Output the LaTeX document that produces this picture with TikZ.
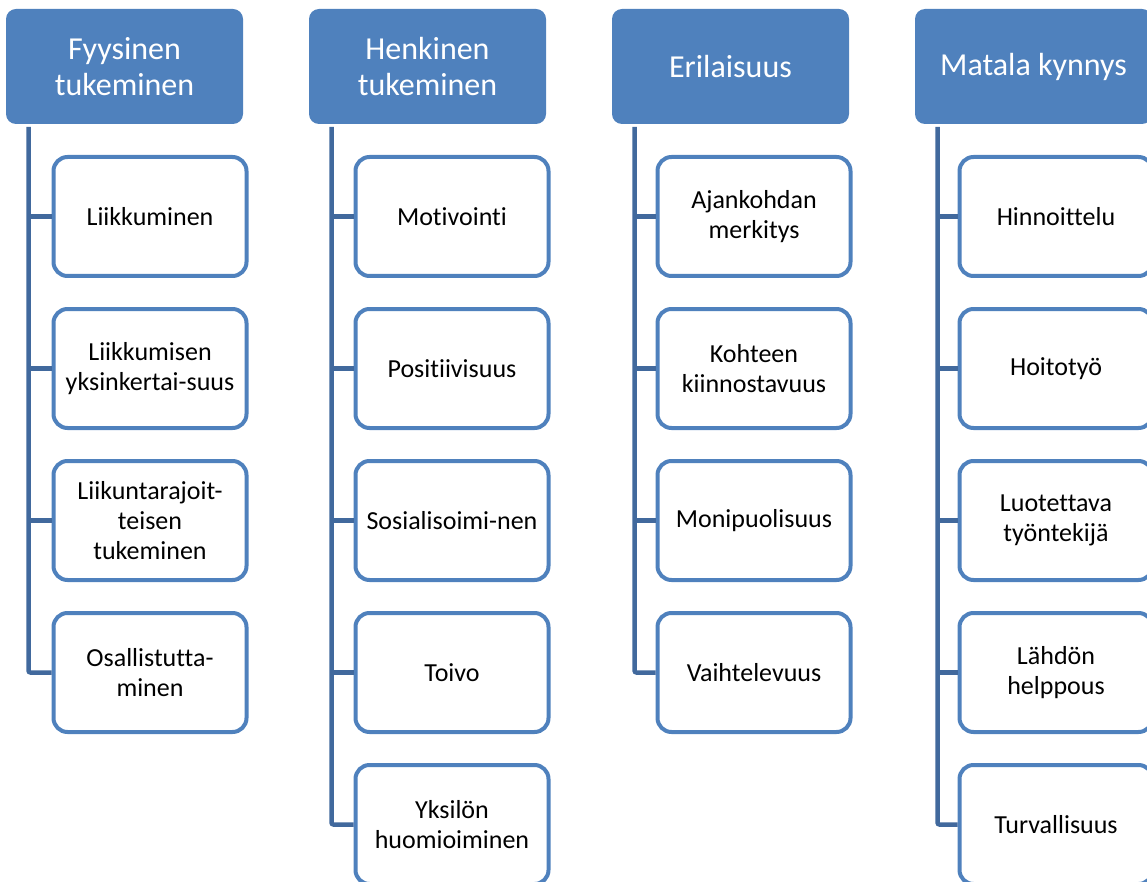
\documentclass[tikz,border=0pt]{standalone}
\usepackage{fontspec}
\setmainfont[Ligatures={NoCommon,NoRequired,NoContextual}]{Carlito}
\definecolor{hdr}{HTML}{4F81BD}
\definecolor{brd}{HTML}{4F81BD}
\definecolor{conn}{HTML}{41699D}
\tikzset{
  header/.style={rectangle, rounded corners=10pt, fill=hdr, draw=none, text=white,
    minimum width=237pt, minimum height=115pt, align=center, inner sep=0pt,
    font=\fontsize{32pt}{36pt}\selectfont},
  child/.style={rectangle, rounded corners=14pt, fill=white, draw=brd, line width=4pt,
    minimum width=193pt, minimum height=119pt, align=center, inner sep=0pt, text width=187pt,
    font=\fontsize{26pt}{30pt}\selectfont},
  connline/.style={draw=conn, line width=4.5pt, rounded corners=2pt},
  branch/.style={draw=conn, line width=4.5pt}
}
\begin{document}
\begin{tikzpicture}[x=1pt,y=1pt]
\useasboundingbox (0,0) rectangle (1147,-882);
\clip (0,0) rectangle (1147,-882);
% headers
\node[header] (h1) at (124.5,-66.5) {Fyysinen\\tukeminen};
\node[header] (h2) at (427.5,-66.5) {Henkinen\\tukeminen};
\node[header] (h3) at (730.5,-66.5) {Erilaisuus};
\node[header] (h4) at (1033.5,-66.5) {Matala kynnys};
% line tops
\coordinate (t1) at (28.5,-127);
\coordinate (t2) at (331.5,-127);
\coordinate (t3) at (634.5,-127);
\coordinate (t4) at (937.5,-127);
% column 1
\node[child] (a1) at (150,-216.5) {Liikkuminen};
\node[child] (a2) at (150,-368.5) {Liikkumisen\\yksinkertai-suus};
\node[child] (a3) at (150,-520.5) {Liikuntarajoit-\\teisen\\tukeminen};
\node[child] (a4) at (150,-672.5) {Osallistutta-\\minen};
% column 2
\node[child] (b1) at (452,-216.5) {Motivointi};
\node[child] (b2) at (452,-368.5) {Positiivisuus};
\node[child] (b3) at (452,-520.5) {Sosialisoimi-nen};
\node[child] (b4) at (452,-672.5) {Toivo};
\node[child] (b5) at (452,-824.5) {Yksilön\\huomioiminen};
% column 3
\node[child] (c1) at (754,-216.5) {Ajankohdan\\merkitys};
\node[child] (c2) at (754,-368.5) {Kohteen\\kiinnostavuus};
\node[child] (c3) at (754,-520.5) {Monipuolisuus};
\node[child] (c4) at (754,-672.5) {Vaihtelevuus};
% column 4
\node[child] (d1) at (1056,-216.5) {Hinnoittelu};
\node[child] (d2) at (1056,-368.5) {Hoitotyö};
\node[child] (d3) at (1056,-520.5) {Luotettava\\työntekijä};
\node[child] (d4) at (1056,-672.5) {Lähdön\\helppous};
\node[child] (d5) at (1056,-824.5) {Turvallisuus};
% connectors
\path[connline] (t1) |- (a4.west);
\foreach \n in {a1,a2,a3} \path[branch] (t1 |- \n.west) -- (\n.west);
\path[connline] (t2) |- (b5.west);
\foreach \n in {b1,b2,b3,b4} \path[branch] (t2 |- \n.west) -- (\n.west);
\path[connline] (t3) |- (c4.west);
\foreach \n in {c1,c2,c3} \path[branch] (t3 |- \n.west) -- (\n.west);
\path[connline] (t4) |- (d5.west);
\foreach \n in {d1,d2,d3,d4} \path[branch] (t4 |- \n.west) -- (\n.west);
\end{tikzpicture}
\end{document}
